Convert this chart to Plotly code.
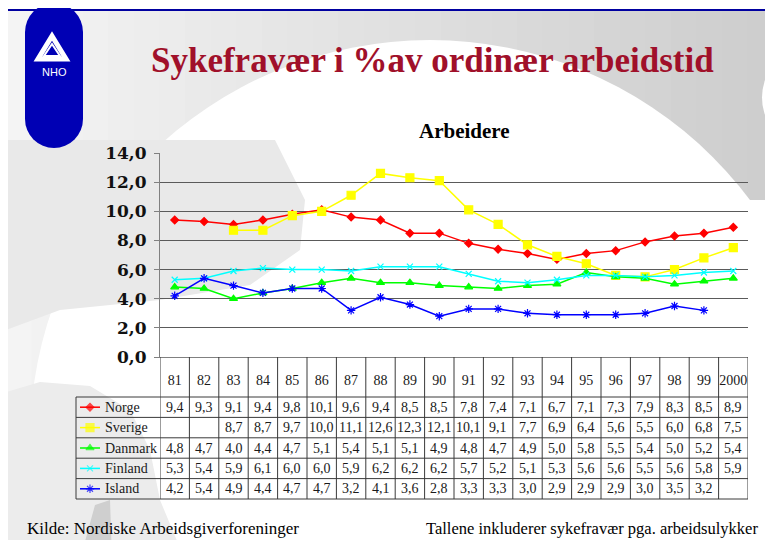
import plotly.graph_objects as go

W, H = 773, 540

years = ["81", "82", "83", "84", "85", "86", "87", "88", "89", "90",
         "91", "92", "93", "94", "95", "96", "97", "98", "99", "2000"]

norge = [9.4, 9.3, 9.1, 9.4, 9.8, 10.1, 9.6, 9.4, 8.5, 8.5,
         7.8, 7.4, 7.1, 6.7, 7.1, 7.3, 7.9, 8.3, 8.5, 8.9]
sverige = [None, None, 8.7, 8.7, 9.7, 10.0, 11.1, 12.6, 12.3, 12.1,
           10.1, 9.1, 7.7, 6.9, 6.4, 5.6, 5.5, 6.0, 6.8, 7.5]
danmark = [4.8, 4.7, 4.0, 4.4, 4.7, 5.1, 5.4, 5.1, 5.1, 4.9,
           4.8, 4.7, 4.9, 5.0, 5.8, 5.5, 5.4, 5.0, 5.2, 5.4]
finland = [5.3, 5.4, 5.9, 6.1, 6.0, 6.0, 5.9, 6.2, 6.2, 6.2,
           5.7, 5.2, 5.1, 5.3, 5.6, 5.6, 5.5, 5.6, 5.8, 5.9]
island = [4.2, 5.4, 4.9, 4.4, 4.7, 4.7, 3.2, 4.1, 3.6, 2.8,
          3.3, 3.3, 3.0, 2.9, 2.9, 2.9, 3.0, 3.5, 3.2, None]

names = ["Norge", "Sverige", "Danmark", "Finland", "Island"]
series = [norge, sverige, danmark, finland, island]
colors = ["#FF0000", "#FFFF00", "#00FF00", "#00FFFF", "#0000FF"]
symbols = ["diamond", "square", "triangle-up", "x-thin-open", "asterisk-open"]
msizes = [6, 8, 7, 6, 7]

yticks = [0, 2, 4, 6, 8, 10, 12, 14]

# the page puts the plot 8px in from the top-left corner
OFF = 8


def px(x):
    return (x - OFF) / W


def py(y):
    return 1 - (y - OFF) / H


# plot area in pixels
X0, X1 = 160, 748
Y0, Y1 = 153, 357
ROW_TOP, ROW_H = 397, 20.4
SERIF = "Liberation Serif"
idx = list(range(len(years)))

fig = go.Figure()

for name, vals, c, sym, ms in zip(names, series, colors, symbols, msizes):
    fig.add_trace(go.Scatter(
        x=idx, y=vals, name=name, mode="lines+markers",
        line=dict(color=c, width=1.5),
        marker=dict(symbol=sym, size=ms, color=c, line=dict(color=c, width=1.2)),
        showlegend=False, cliponaxis=False,
    ))

# legend keys inside the data table
for r, (c, sym, ms) in enumerate(zip(colors, symbols, msizes)):
    fig.add_trace(go.Scatter(
        x=[0, 0.5, 1], y=[r, r, r], mode="lines+markers",
        line=dict(color=c, width=1.5),
        marker=dict(symbol=sym, size=[0, ms, 0], color=c, line=dict(color=c, width=1.2)),
        xaxis="x2", yaxis="y2", showlegend=False, cliponaxis=False, hoverinfo="skip",
    ))

shapes = []


def poly(pts, color):
    path = "M " + " L ".join(f"{px(a)},{py(b)}" for a, b in pts) + " Z"
    return dict(type="path", xref="paper", yref="paper", layer="below",
                path=path, fillcolor=color, line=dict(width=0))


# background: grey gradient, white swoosh
n = 30
for k in range(n):
    g = int(244 - (244 - 206) * k / (n - 1))
    xa = 6 + (W - 6) * k / n
    xb = 6 + (W - 6) * (k + 1) / n + 1
    shapes.append(dict(type="rect", xref="paper", yref="paper", layer="below",
                       x0=px(xa), x1=px(xb), y0=py(H + 10), y1=py(10),
                       fillcolor=f"rgb({g},{g},{g})", line=dict(width=0)))
shapes.append(dict(type="circle", xref="paper", yref="paper", layer="below",
                   x0=px(30), x1=px(830), y0=py(40), y1=py(840),
                   fillcolor="white", line=dict(width=0)))
shapes.append(dict(type="circle", xref="paper", yref="paper", layer="below",
                   x0=px(762), x1=px(830), y0=py(55), y1=py(140),
                   fillcolor="white", line=dict(width=0)))
shapes.append(poly([(300, 200), (800, 200), (800, 560), (300, 560)], "white"))
shapes.append(poly([(6, 140), (275, 140), (305, 200), (300, 250), (250, 285),
                    (160, 300), (60, 310), (6, 330)], "#e9e9e9"))
shapes.append(poly([(6, 392), (40, 382), (90, 386), (130, 410), (150, 450),
                    (160, 500), (185, 560), (6, 560)], "#ececec"))
shapes.append(poly([(80, 560), (95, 505), (110, 500), (112, 560)], "#cfcfcf"))

# blue frame
shapes.append(dict(type="line", xref="paper", yref="paper", x0=px(6), x1=px(W + 10),
                   y0=py(10), y1=py(10), line=dict(color="#0000A0", width=2)))
shapes.append(dict(type="line", xref="paper", yref="paper", x0=px(7), x1=px(7),
                   y0=py(10), y1=py(H + 10), line=dict(color="#0000A0", width=2)))

# NHO pill
blue = "#0000B4"
shapes.append(dict(type="rect", xref="paper", yref="paper", x0=px(25), x1=px(83), y0=py(119), y1=py(32),
                   fillcolor=blue, line=dict(width=0)))
shapes.append(dict(type="circle", xref="paper", yref="paper", x0=px(25), x1=px(83), y0=py(61), y1=py(3),
                   fillcolor=blue, line=dict(width=0)))
shapes.append(dict(type="circle", xref="paper", yref="paper", x0=px(25), x1=px(83), y0=py(148), y1=py(90),
                   fillcolor=blue, line=dict(width=0)))
for pts, lw in (([(52, 36), (66, 59), (38, 59)], 5), ([(52, 44), (60, 56), (44, 56)], 2)):
    path = "M " + " L ".join(f"{px(a)},{py(b)}" for a, b in pts) + " Z"
    shapes.append(dict(type="path", xref="paper", yref="paper", path=path,
                       fillcolor="rgba(0,0,0,0)", line=dict(color="white", width=lw)))

# data table grid
tc = "#3a3a3a"
bottom = ROW_TOP + ROW_H * len(names)
for i in range(len(years) + 1):
    shapes.append(dict(type="line", xref="x", yref="paper", x0=i - 0.5, x1=i - 0.5,
                       y0=py(Y1), y1=py(bottom), line=dict(color=tc, width=1)))
for r in range(len(names) + 1):
    yy = ROW_TOP + ROW_H * r
    shapes.append(dict(type="line", xref="paper", yref="paper", x0=px(76), x1=px(X1),
                       y0=py(yy), y1=py(yy), line=dict(color=tc, width=1)))
shapes.append(dict(type="line", xref="paper", yref="paper", x0=px(76), x1=px(76),
                   y0=py(ROW_TOP), y1=py(bottom), line=dict(color=tc, width=1)))

annotations = []
for r, (name, vals) in enumerate(zip(names, series)):
    yc = py(ROW_TOP + ROW_H * (r + 0.5))
    annotations.append(dict(x=px(103), y=yc, xref="paper", yref="paper", text=name,
                            showarrow=False, xanchor="left", yanchor="middle",
                            font=dict(family=SERIF, size=14, color="#1a1a1a")))
    for i, v in zip(idx, vals):
        if v is None:
            continue
        annotations.append(dict(x=i, y=yc, xref="x", yref="paper",
                                text=f"{v:.1f}".replace(".", ","), showarrow=False,
                                xanchor="center", yanchor="middle",
                                font=dict(family=SERIF, size=14, color="#1a1a1a")))

annotations += [
    dict(x=px(432), y=py(60), xref="paper", yref="paper", showarrow=False,
         xanchor="center", yanchor="middle",
         text="<b>Sykefravær i %av ordinær arbeidstid</b>",
         font=dict(family=SERIF, size=35, color="#A0102A")),
    dict(x=px(464), y=py(131), xref="paper", yref="paper", showarrow=False,
         xanchor="center", yanchor="middle",
         text="<b>Arbeidere</b>", font=dict(family=SERIF, size=21, color="#000000")),
    dict(x=px(54), y=py(72), xref="paper", yref="paper", showarrow=False,
         xanchor="center", yanchor="middle",
         text="NHO", font=dict(family="Liberation Sans", size=11, color="white")),
    dict(x=px(25), y=py(528), xref="paper", yref="paper", showarrow=False,
         xanchor="left", yanchor="middle",
         text="Kilde: Nordiske Arbeidsgiverforeninger",
         font=dict(family=SERIF, size=17, color="#000000")),
    dict(x=px(760), y=py(528), xref="paper", yref="paper", showarrow=False,
         xanchor="right", yanchor="middle",
         text="Tallene inkluderer sykefravær pga. arbeidsulykker",
         font=dict(family=SERIF, size=16.5, color="#000000")),
]

fig.update_layout(
    width=W, height=H,
    margin=dict(l=0, r=0, t=0, b=0, autoexpand=False),
    paper_bgcolor="white", plot_bgcolor="rgba(0,0,0,0)",
    separators=", ",
    xaxis=dict(domain=[px(X0), px(X1)], range=[-0.5, len(years) - 0.5],
               tickvals=idx, ticktext=years,
               showgrid=False, zeroline=False, showline=True, linecolor="#808080",
               ticks="", ticklabelstandoff=10, automargin=False,
               tickfont=dict(family=SERIF, size=14, color="#1a1a1a")),
    yaxis=dict(domain=[py(Y1), py(Y0)], range=[0, 14], tickvals=yticks, tickformat=".1f",
               showgrid=True, gridcolor="#5a5a5a", gridwidth=1, zeroline=False,
               showline=True, linecolor="#808080", ticks="outside", ticklen=5,
               tickcolor="#808080", ticklabelstandoff=4, automargin=False,
               tickfont=dict(family="DejaVu Serif", size=17, color="#111111", weight="bold")),
    xaxis2=dict(domain=[px(80), px(100)], range=[0, 1], visible=False, anchor="y2"),
    yaxis2=dict(domain=[py(bottom), py(ROW_TOP)], range=[len(names) - 0.5, -0.5],
                visible=False, anchor="x2"),
    shapes=shapes,
    annotations=annotations,
)

fig.write_html("out.html")
